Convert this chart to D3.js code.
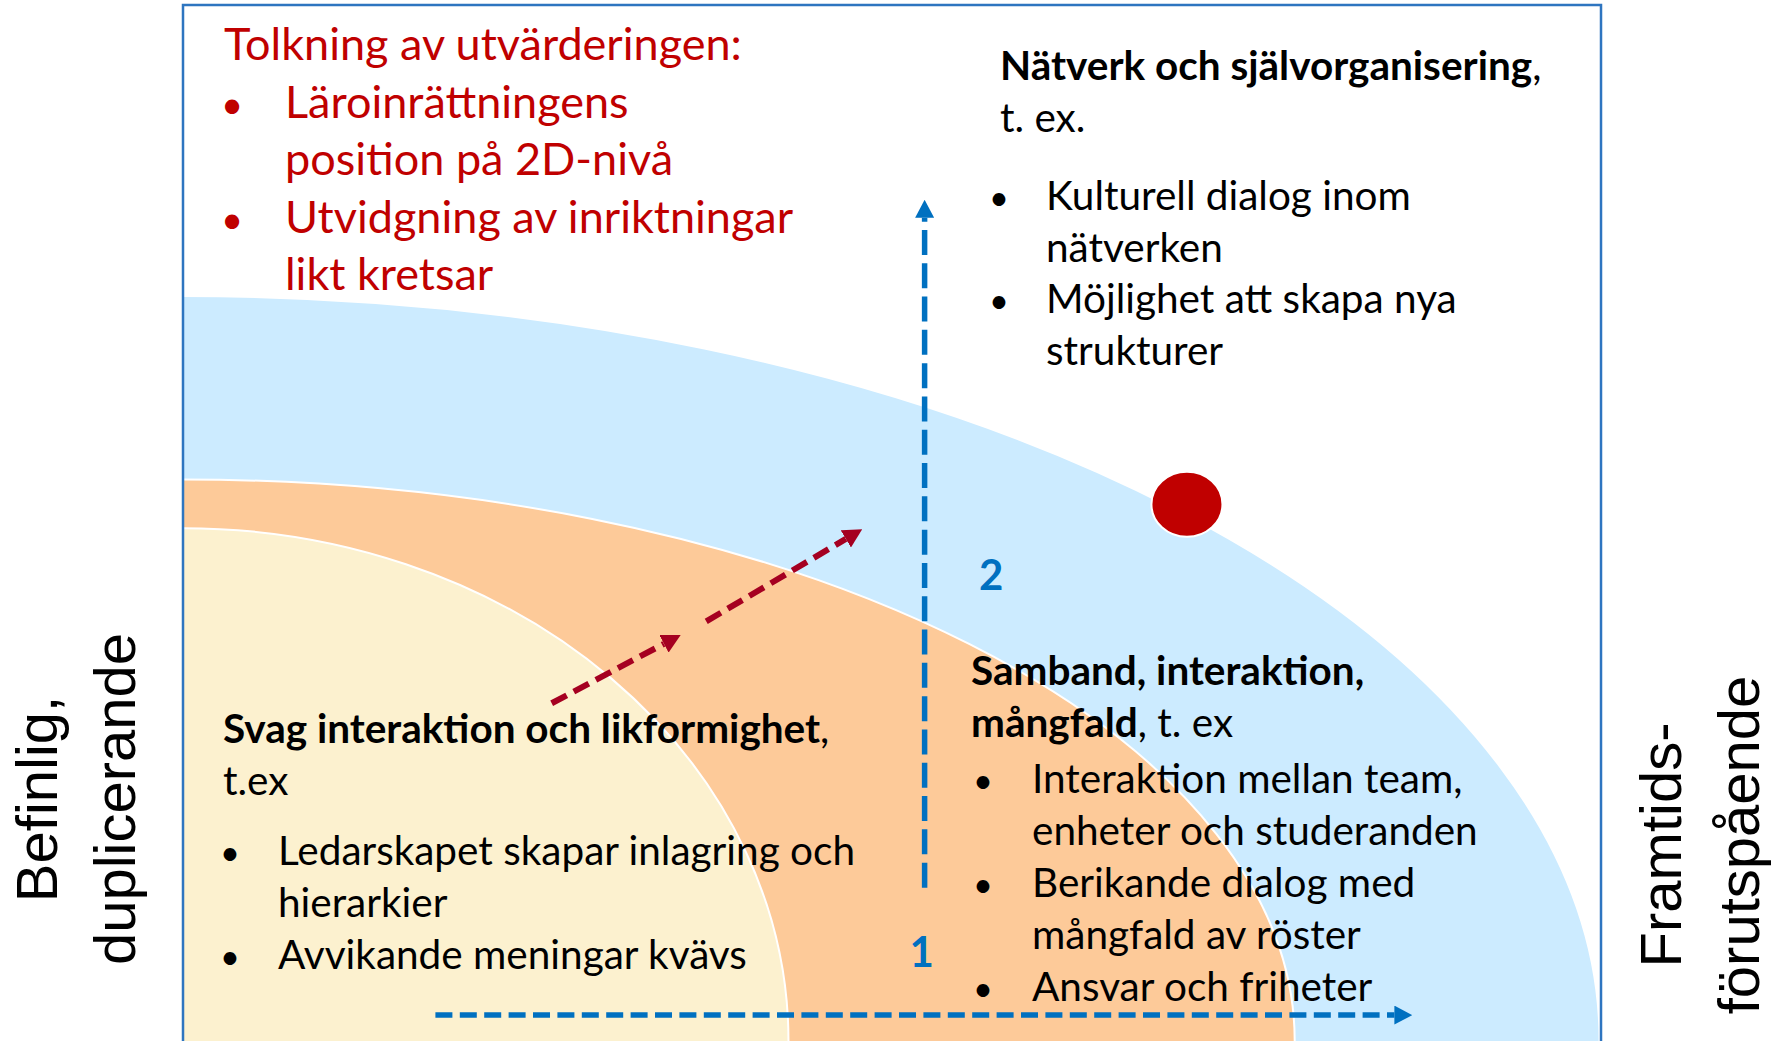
<!DOCTYPE html>
<html>
<head>
<meta charset="utf-8">
<script src="https://cdn.jsdelivr.net/npm/d3@7"></script>
<style>
  body { margin: 0; background: #fff; }
  svg { display: block; }
</style>
</head>
<body>
<svg width="1785" height="1041"></svg>
<script>
// ---------------------------------------------------------------- data
// rings of the field, semi axes in field units (0..100 each way from the bottom-left corner)
var ringNames = ["Nätverk", "Samband", "Svag"];
var ringRx = [99.9, 78.4, 42.7];
var ringRy = [71.9, 54.2, 49.5];

// where the institution stands
var dotX = [70.8];
var dotY = [51.8];

// blue development axes, 1 = horizontal, 2 = vertical
var axisNames = ["1", "2"];
var axisFrom = [[17.8, 2.5], [52.3, 14.8]];
var axisTo = [[86.7, 2.5], [52.3, 81.2]];
var axisLabelAt = [[52.1, 7.1], [57.0, 43.5]];

// red "widening" arrows
var trendFrom = [[26.0, 32.6], [36.9, 40.5]];
var trendTo = [[35.1, 39.2], [47.9, 49.4]];

// texts
var interpretHead = ["Tolkning av utvärderingen:"];
var interpretItems = [["Läroinrättningens", "position på 2D-nivå"],
                      ["Utvidgning av inriktningar", "likt kretsar"]];

var networkHead = [[["Nätverk och självorganisering", 1], [",", 0]], "t. ex."];
var networkItems = [["Kulturell dialog inom", "nätverken"],
                    ["Möjlighet att skapa nya", "strukturer"]];

var weakHead = [[["Svag interaktion och likformighet", 1], [",", 0]], "t.ex"];
var weakItems = [["Ledarskapet skapar inlagring och", "hierarkier"],
                 ["Avvikande meningar kvävs"]];

var linkHead = [[["Samband, interaktion,", 1]], [["mångfald", 1], [", t. ex", 0]]];
var linkItems = [["Interaktion mellan team,", "enheter och studeranden"],
                 ["Berikande dialog med", "mångfald av röster"],
                 ["Ansvar och friheter"]];

var leftLabel = ["Befinlig,", "duplicerande"];
var rightLabel = ["Framtids-", "förutspående"];

// ---------------------------------------------------------------- setup
var svg = d3.select("svg"),
    FONT = "Lato, 'Noto Sans', sans-serif",
    frame = {left: 183, right: 1601, top: 5, bottom: 1041};

var x = d3.scaleLinear().domain([0, 100]).range([frame.left, frame.right]);
var y = d3.scaleLinear().domain([0, 100]).range([frame.bottom, frame.top]);

var ringColor = d3.scaleOrdinal().domain(ringNames).range(["#CCEBFF", "#FDCA99", "#FCF1CF"]);

svg.append("rect").attr("width", 1785).attr("height", 1041).attr("fill", "#fff");

var defs = svg.append("defs");
defs.append("clipPath").attr("id", "frameClip")
    .append("rect")
    .attr("x", frame.left).attr("y", frame.top)
    .attr("width", frame.right - frame.left).attr("height", frame.bottom - frame.top);

function marker(id, color, len, half) {
    defs.append("marker")
        .attr("id", id)
        .attr("markerUnits", "userSpaceOnUse")
        .attr("viewBox", [0, -half, len, 2 * half].join(" "))
        .attr("refX", 0).attr("refY", 0)
        .attr("markerWidth", len).attr("markerHeight", 2 * half)
        .attr("orient", "auto")
        .append("path")
        .attr("d", "M0," + (-half) + "L" + len + ",0L0," + half + "Z")
        .attr("fill", color);
}
marker("headBlue", "#0070C0", 18, 9.5);
marker("headRed", "#A50021", 19, 10);

// ---------------------------------------------------------------- rings
svg.append("g").attr("clip-path", "url(#frameClip)")
    .selectAll("ellipse")
    .data(ringNames)
    .join("ellipse")
    .attr("cx", x(0))
    .attr("cy", y(0))
    .attr("rx", (d, i) => x(ringRx[i]) - x(0))
    .attr("ry", (d, i) => y(0) - y(ringRy[i]))
    .attr("fill", d => ringColor(d))
    .attr("stroke", "#fff")
    .attr("stroke-width", 2);

// frame (open at the bottom)
svg.append("path")
    .attr("d", "M" + frame.left + "," + frame.bottom + "V" + frame.top + "H" + frame.right + "V" + frame.bottom)
    .attr("fill", "none")
    .attr("stroke", "#2E75C0")
    .attr("stroke-width", 2.5);

// ---------------------------------------------------------------- arrows
function arrowLine(from, to, headLen) {
    var x1 = x(from[0]), y1 = y(from[1]), x2 = x(to[0]), y2 = y(to[1]);
    var L = Math.hypot(x2 - x1, y2 - y1);
    return [x1, y1, x2 - (x2 - x1) / L * headLen, y2 - (y2 - y1) / L * headLen];
}

svg.append("g").selectAll("line")
    .data(axisNames)
    .join("line")
    .each(function(d, i) {
        var p = arrowLine(axisFrom[i], axisTo[i], 18);
        d3.select(this).attr("x1", p[0]).attr("y1", p[1]).attr("x2", p[2]).attr("y2", p[3]);
    })
    .attr("stroke", "#0070C0")
    .attr("stroke-width", 5.5)
    .attr("stroke-dasharray", (d, i) => i === 0 ? "17,7.4" : "25,8.3")
    .attr("marker-end", "url(#headBlue)");

svg.append("g").selectAll("line")
    .data(trendFrom)
    .join("line")
    .each(function(d, i) {
        var p = arrowLine(trendFrom[i], trendTo[i], 19);
        d3.select(this).attr("x1", p[0]).attr("y1", p[1]).attr("x2", p[2]).attr("y2", p[3]);
    })
    .attr("stroke", "#A50021")
    .attr("stroke-width", 6)
    .attr("stroke-dasharray", "17,8")
    .attr("marker-end", "url(#headRed)");

svg.append("g").selectAll("text")
    .data(axisNames)
    .join("text")
    .attr("x", (d, i) => x(axisLabelAt[i][0]))
    .attr("y", (d, i) => y(axisLabelAt[i][1]))
    .attr("text-anchor", "middle")
    .attr("font-family", FONT)
    .attr("font-weight", "bold")
    .attr("font-size", 42)
    .attr("fill", "#0070C0")
    .text(d => d);

// the institution's position
svg.append("g").selectAll("ellipse")
    .data(dotX)
    .join("ellipse")
    .attr("cx", d => x(d))
    .attr("cy", (d, i) => y(dotY[i]))
    .attr("rx", 35.5)
    .attr("ry", 32.5)
    .attr("fill", "#C00000")
    .attr("stroke", "#fff")
    .attr("stroke-width", 2);

// ---------------------------------------------------------------- text blocks
function addLine(g, xx, yy, line) {
    var t = g.append("text").attr("x", xx).attr("y", yy);
    if (typeof line === "string") { t.text(line); return; }
    line.forEach(function(seg) {
        t.append("tspan").attr("font-weight", seg[1] ? "bold" : "normal").text(seg[0]);
    });
}

function textBlock(spec) {
    var g = svg.append("g")
        .attr("font-family", FONT)
        .attr("font-size", spec.size)
        .attr("fill", spec.color);
    var yy = spec.y;
    spec.head.forEach(function(line) { addLine(g, spec.x, yy, line); yy += spec.lh; });
    yy += spec.gap;
    spec.items.forEach(function(item) {
        g.append("text").attr("x", spec.bx).attr("y", yy)
            .attr("text-anchor", "middle")
            .attr("font-size", spec.size * 0.85)
            .text("•");
        item.forEach(function(line) { addLine(g, spec.tx, yy, line); yy += spec.lh; });
    });
}

textBlock({head: interpretHead, items: interpretItems, color: "#C00000", size: 45,
           x: 224, y: 60, lh: 57.5, gap: 0, bx: 232, tx: 285});
textBlock({head: networkHead, items: networkItems, color: "#000", size: 40.5,
           x: 1000, y: 80, lh: 51.7, gap: 26.6, bx: 999, tx: 1046});
textBlock({head: weakHead, items: weakItems, color: "#000", size: 40.5,
           x: 223, y: 743, lh: 52, gap: 18, bx: 230, tx: 278});
textBlock({head: linkHead, items: linkItems, color: "#000", size: 40.5,
           x: 971, y: 685, lh: 52, gap: 4, bx: 983, tx: 1032});

// ---------------------------------------------------------------- rotated axis labels
function sideLabel(lines, tx, ty) {
    svg.append("g")
        .attr("transform", "translate(" + tx + "," + ty + ") rotate(-90)")
        .attr("font-family", "'Liberation Sans', Arial, sans-serif")
        .attr("font-size", 58)
        .attr("fill", "#000")
        .selectAll("text")
        .data(lines)
        .join("text")
        .attr("x", 0)
        .attr("y", (d, i) => i * 77.5)
        .attr("text-anchor", "middle")
        .text(d => d);
}
sideLabel(leftLabel, 57, 799);
sideLabel(rightLabel, 1681, 845);
</script>
</body>
</html>
